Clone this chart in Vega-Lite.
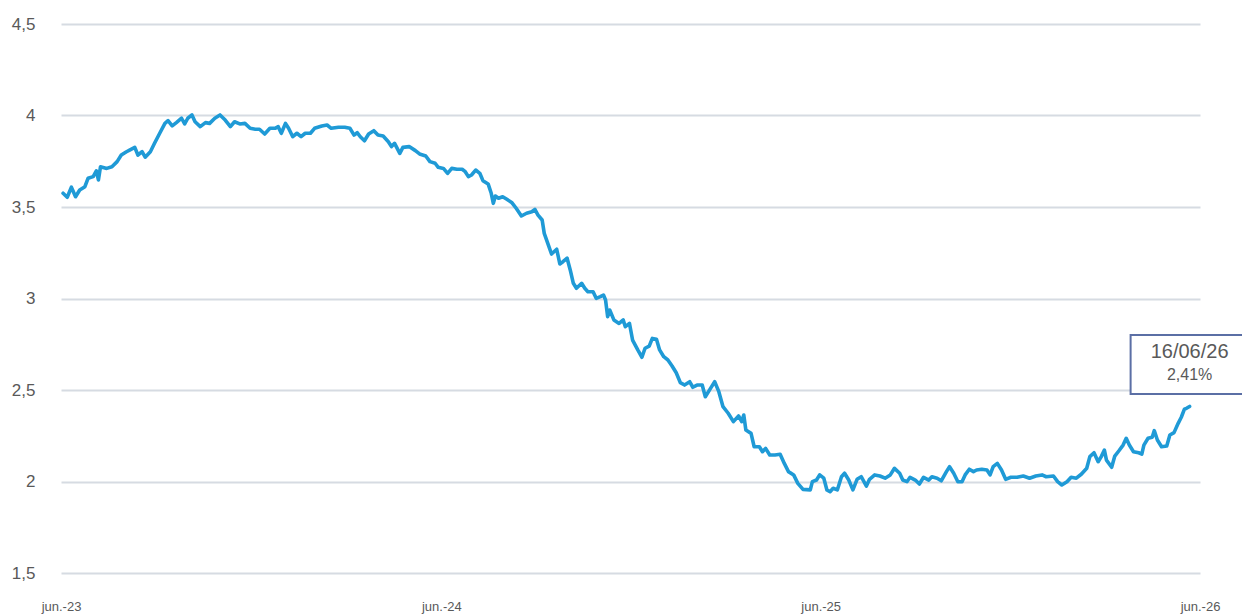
{
  "$schema": "https://vega.github.io/schema/vega-lite/v6.json",
  "width": 1139,
  "height": 549,
  "autosize": {"type": "none"},
  "padding": {"left": 61, "top": 24, "right": 42, "bottom": 43},
  "background": "white",
  "config": {"view": {"stroke": null}, "font": "Liberation Sans"},
  "data": {"values": [
    {"date":"2023-06-28","value":3.575},{"date":"2023-07-02","value":3.553},{"date":"2023-07-06","value":3.608},{"date":"2023-07-10","value":3.556},{"date":"2023-07-14","value":3.593},{"date":"2023-07-19","value":3.611},{"date":"2023-07-22","value":3.657},{"date":"2023-07-27","value":3.666},{"date":"2023-07-30","value":3.698},{"date":"2023-08-01","value":3.648},
    {"date":"2023-08-03","value":3.720},{"date":"2023-08-09","value":3.711},{"date":"2023-08-14","value":3.720},{"date":"2023-08-19","value":3.748},{"date":"2023-08-23","value":3.784},{"date":"2023-08-28","value":3.802},{"date":"2023-08-31","value":3.811},{"date":"2023-09-05","value":3.826},{"date":"2023-09-08","value":3.784},{"date":"2023-09-12","value":3.802},
    {"date":"2023-09-15","value":3.772},{"date":"2023-09-20","value":3.802},{"date":"2023-09-24","value":3.848},{"date":"2023-09-29","value":3.903},{"date":"2023-10-04","value":3.957},{"date":"2023-10-07","value":3.972},{"date":"2023-10-11","value":3.943},{"date":"2023-10-15","value":3.961},{"date":"2023-10-20","value":3.985},{"date":"2023-10-23","value":3.954},
    {"date":"2023-10-26","value":3.985},{"date":"2023-10-30","value":4.003},{"date":"2023-11-02","value":3.966},{"date":"2023-11-07","value":3.939},{"date":"2023-11-12","value":3.961},{"date":"2023-11-16","value":3.957},{"date":"2023-11-21","value":3.985},{"date":"2023-11-26","value":4.003},{"date":"2023-12-01","value":3.975},{"date":"2023-12-06","value":3.939},
    {"date":"2023-12-10","value":3.966},{"date":"2023-12-15","value":3.954},{"date":"2023-12-20","value":3.957},{"date":"2023-12-25","value":3.930},{"date":"2023-12-30","value":3.925},{"date":"2024-01-03","value":3.925},{"date":"2024-01-08","value":3.899},{"date":"2024-01-13","value":3.930},{"date":"2024-01-18","value":3.930},{"date":"2024-01-21","value":3.939},
    {"date":"2024-01-24","value":3.903},{"date":"2024-01-28","value":3.957},{"date":"2024-01-31","value":3.930},{"date":"2024-02-04","value":3.884},{"date":"2024-02-08","value":3.903},{"date":"2024-02-12","value":3.884},{"date":"2024-02-16","value":3.903},{"date":"2024-02-21","value":3.903},{"date":"2024-02-25","value":3.930},{"date":"2024-03-03","value":3.943},
    {"date":"2024-03-08","value":3.948},{"date":"2024-03-12","value":3.930},{"date":"2024-03-19","value":3.936},{"date":"2024-03-25","value":3.936},{"date":"2024-03-30","value":3.930},{"date":"2024-04-03","value":3.893},{"date":"2024-04-06","value":3.906},{"date":"2024-04-09","value":3.884},{"date":"2024-04-13","value":3.862},{"date":"2024-04-17","value":3.899},
    {"date":"2024-04-22","value":3.917},{"date":"2024-04-26","value":3.893},{"date":"2024-05-01","value":3.888},{"date":"2024-05-06","value":3.857},{"date":"2024-05-09","value":3.830},{"date":"2024-05-12","value":3.848},{"date":"2024-05-17","value":3.793},{"date":"2024-05-20","value":3.826},{"date":"2024-05-26","value":3.830},{"date":"2024-06-01","value":3.808},
    {"date":"2024-06-05","value":3.790},{"date":"2024-06-11","value":3.779},{"date":"2024-06-15","value":3.748},{"date":"2024-06-20","value":3.739},{"date":"2024-06-23","value":3.717},{"date":"2024-06-28","value":3.711},{"date":"2024-07-02","value":3.684},{"date":"2024-07-06","value":3.711},{"date":"2024-07-11","value":3.706},{"date":"2024-07-16","value":3.706},
    {"date":"2024-07-19","value":3.693},{"date":"2024-07-22","value":3.666},{"date":"2024-07-25","value":3.675},{"date":"2024-07-29","value":3.702},{"date":"2024-08-02","value":3.684},{"date":"2024-08-05","value":3.644},{"date":"2024-08-10","value":3.626},{"date":"2024-08-13","value":3.575},{"date":"2024-08-15","value":3.520},{"date":"2024-08-17","value":3.560},
    {"date":"2024-08-20","value":3.548},{"date":"2024-08-24","value":3.556},{"date":"2024-08-28","value":3.542},{"date":"2024-09-02","value":3.523},{"date":"2024-09-06","value":3.493},{"date":"2024-09-11","value":3.451},{"date":"2024-09-16","value":3.466},{"date":"2024-09-21","value":3.474},{"date":"2024-09-24","value":3.487},{"date":"2024-09-27","value":3.456},
    {"date":"2024-10-01","value":3.429},{"date":"2024-10-03","value":3.356},{"date":"2024-10-07","value":3.292},{"date":"2024-10-10","value":3.243},{"date":"2024-10-15","value":3.269},{"date":"2024-10-18","value":3.189},{"date":"2024-10-21","value":3.201},{"date":"2024-10-25","value":3.220},{"date":"2024-10-28","value":3.156},{"date":"2024-10-31","value":3.083},
    {"date":"2024-11-03","value":3.056},{"date":"2024-11-08","value":3.083},{"date":"2024-11-11","value":3.056},{"date":"2024-11-14","value":3.037},{"date":"2024-11-19","value":3.037},{"date":"2024-11-22","value":3.001},{"date":"2024-11-26","value":3.010},{"date":"2024-11-29","value":3.019},{"date":"2024-12-01","value":2.992},{"date":"2024-12-03","value":2.901},
    {"date":"2024-12-05","value":2.937},{"date":"2024-12-09","value":2.883},{"date":"2024-12-14","value":2.864},{"date":"2024-12-18","value":2.883},{"date":"2024-12-20","value":2.846},{"date":"2024-12-24","value":2.864},{"date":"2024-12-27","value":2.773},{"date":"2025-01-01","value":2.719},{"date":"2025-01-05","value":2.679},{"date":"2025-01-08","value":2.728},
    {"date":"2025-01-12","value":2.740},{"date":"2025-01-15","value":2.782},{"date":"2025-01-19","value":2.777},{"date":"2025-01-22","value":2.719},{"date":"2025-01-26","value":2.682},{"date":"2025-01-30","value":2.664},{"date":"2025-02-03","value":2.631},{"date":"2025-02-07","value":2.594},{"date":"2025-02-11","value":2.540},{"date":"2025-02-15","value":2.527},
    {"date":"2025-02-20","value":2.545},{"date":"2025-02-23","value":2.515},{"date":"2025-02-27","value":2.527},{"date":"2025-03-04","value":2.527},{"date":"2025-03-07","value":2.463},{"date":"2025-03-12","value":2.509},{"date":"2025-03-16","value":2.545},{"date":"2025-03-20","value":2.491},{"date":"2025-03-24","value":2.409},{"date":"2025-03-29","value":2.373},
    {"date":"2025-04-03","value":2.327},{"date":"2025-04-08","value":2.358},{"date":"2025-04-11","value":2.327},{"date":"2025-04-13","value":2.363},{"date":"2025-04-15","value":2.281},{"date":"2025-04-20","value":2.263},{"date":"2025-04-23","value":2.190},{"date":"2025-04-28","value":2.190},{"date":"2025-05-01","value":2.163},{"date":"2025-05-04","value":2.181},
    {"date":"2025-05-08","value":2.145},{"date":"2025-05-13","value":2.145},{"date":"2025-05-18","value":2.149},{"date":"2025-05-22","value":2.099},{"date":"2025-05-26","value":2.054},{"date":"2025-05-31","value":2.036},{"date":"2025-06-04","value":1.990},{"date":"2025-06-09","value":1.957},{"date":"2025-06-16","value":1.954},{"date":"2025-06-18","value":1.999},
    {"date":"2025-06-22","value":2.008},{"date":"2025-06-25","value":2.036},{"date":"2025-06-29","value":2.018},{"date":"2025-07-02","value":1.954},{"date":"2025-07-05","value":1.944},{"date":"2025-07-08","value":1.963},{"date":"2025-07-12","value":1.954},{"date":"2025-07-16","value":2.026},{"date":"2025-07-19","value":2.045},{"date":"2025-07-23","value":2.008},
    {"date":"2025-07-27","value":1.954},{"date":"2025-07-31","value":2.012},{"date":"2025-08-04","value":2.026},{"date":"2025-08-09","value":1.975},{"date":"2025-08-12","value":2.012},{"date":"2025-08-17","value":2.036},{"date":"2025-08-22","value":2.030},{"date":"2025-08-27","value":2.018},{"date":"2025-09-01","value":2.036},{"date":"2025-09-05","value":2.072},
    {"date":"2025-09-10","value":2.045},{"date":"2025-09-13","value":2.008},{"date":"2025-09-17","value":1.999},{"date":"2025-09-20","value":2.023},{"date":"2025-09-25","value":2.008},{"date":"2025-09-29","value":1.986},{"date":"2025-10-03","value":2.023},{"date":"2025-10-08","value":2.008},{"date":"2025-10-11","value":2.026},{"date":"2025-10-16","value":2.018},
    {"date":"2025-10-20","value":2.004},{"date":"2025-10-25","value":2.054},{"date":"2025-10-28","value":2.081},{"date":"2025-11-01","value":2.045},{"date":"2025-11-05","value":1.999},{"date":"2025-11-09","value":1.999},{"date":"2025-11-12","value":2.036},{"date":"2025-11-16","value":2.067},{"date":"2025-11-20","value":2.054},{"date":"2025-11-23","value":2.063},
    {"date":"2025-11-28","value":2.067},{"date":"2025-12-03","value":2.063},{"date":"2025-12-06","value":2.036},{"date":"2025-12-09","value":2.081},{"date":"2025-12-13","value":2.099},{"date":"2025-12-17","value":2.063},{"date":"2025-12-21","value":2.012},{"date":"2025-12-26","value":2.023},{"date":"2026-01-01","value":2.023},{"date":"2026-01-07","value":2.030},
    {"date":"2026-01-13","value":2.018},{"date":"2026-01-19","value":2.030},{"date":"2026-01-25","value":2.036},{"date":"2026-01-29","value":2.026},{"date":"2026-02-05","value":2.030},{"date":"2026-02-09","value":1.999},{"date":"2026-02-13","value":1.981},{"date":"2026-02-18","value":1.999},{"date":"2026-02-22","value":2.023},{"date":"2026-02-27","value":2.018},
    {"date":"2026-03-04","value":2.041},{"date":"2026-03-09","value":2.072},{"date":"2026-03-12","value":2.136},{"date":"2026-03-16","value":2.157},{"date":"2026-03-20","value":2.108},{"date":"2026-03-23","value":2.136},{"date":"2026-03-26","value":2.172},{"date":"2026-03-28","value":2.117},{"date":"2026-04-02","value":2.078},{"date":"2026-04-05","value":2.139},
    {"date":"2026-04-09","value":2.168},{"date":"2026-04-13","value":2.199},{"date":"2026-04-16","value":2.236},{"date":"2026-04-19","value":2.199},{"date":"2026-04-23","value":2.163},{"date":"2026-04-28","value":2.157},{"date":"2026-05-01","value":2.150},{"date":"2026-05-03","value":2.199},{"date":"2026-05-07","value":2.236},{"date":"2026-05-11","value":2.242},
    {"date":"2026-05-13","value":2.278},{"date":"2026-05-16","value":2.227},{"date":"2026-05-20","value":2.190},{"date":"2026-05-25","value":2.194},{"date":"2026-05-28","value":2.254},{"date":"2026-06-01","value":2.267},{"date":"2026-06-05","value":2.318},{"date":"2026-06-08","value":2.351},{"date":"2026-06-11","value":2.395},{"date":"2026-06-13","value":2.400},
    {"date":"2026-06-16","value":2.41}
  ]},
  "encoding": {
    "x": {
      "field": "date", "type": "temporal",
      "scale": {"type": "utc", "domain": [{"year": 2023, "month": 6, "date": 26, "utc": true}, {"year": 2026, "month": 6, "date": 26, "utc": true}]},
      "axis": {
        "title": null, "grid": false, "domain": false, "ticks": false,
        "values": [
          {"year": 2023, "month": 6, "date": 26, "utc": true},
          {"year": 2024, "month": 6, "date": 26, "utc": true},
          {"year": 2025, "month": 6, "date": 26, "utc": true},
          {"year": 2026, "month": 6, "date": 26, "utc": true}
        ],
        "labelExpr": "'jun.-' + utcFormat(datum.value, '%y')",
        "labelFontSize": 13, "labelColor": "#595959", "labelPadding": 27,
        "labelBaseline": "top", "labelFlush": false, "labelOverlap": false
      }
    },
    "y": {
      "field": "value", "type": "quantitative",
      "scale": {"domain": [1.5, 4.5], "nice": false, "zero": false},
      "axis": {
        "title": null, "domain": false, "ticks": false,
        "values": [1.5, 2, 2.5, 3, 3.5, 4, 4.5],
        "labelExpr": "replace(toString(datum.value), '.', ',')",
        "labelFontSize": 17, "labelColor": "#595959", "labelPadding": 26,
        "grid": true, "gridColor": "#d6dbe2", "gridWidth": 2
      }
    }
  },
  "layer": [
    {"mark": {"type": "line", "color": "#1f9ad6", "strokeWidth": 3.6, "strokeJoin": "round", "strokeCap": "round"}},
    {
      "transform": [{"filter": "datum.value == 2.41"}],
      "mark": {"type": "point", "shape": "M-1,-0.5H1V0.5H-1Z", "size": 13924, "filled": true, "fill": "white", "stroke": "#5b6fa5", "strokeWidth": 2, "opacity": 1, "yOffset": -42}
    },
    {
      "transform": [{"filter": "datum.value == 2.41"}],
      "mark": {"type": "text", "text": "16/06/26", "fontSize": 20, "color": "#595959", "align": "center", "baseline": "middle", "dy": -54}
    },
    {
      "transform": [{"filter": "datum.value == 2.41"}],
      "mark": {"type": "text", "text": "2,41%", "fontSize": 16, "color": "#595959", "align": "center", "baseline": "middle", "dy": -31}
    }
  ]
}
